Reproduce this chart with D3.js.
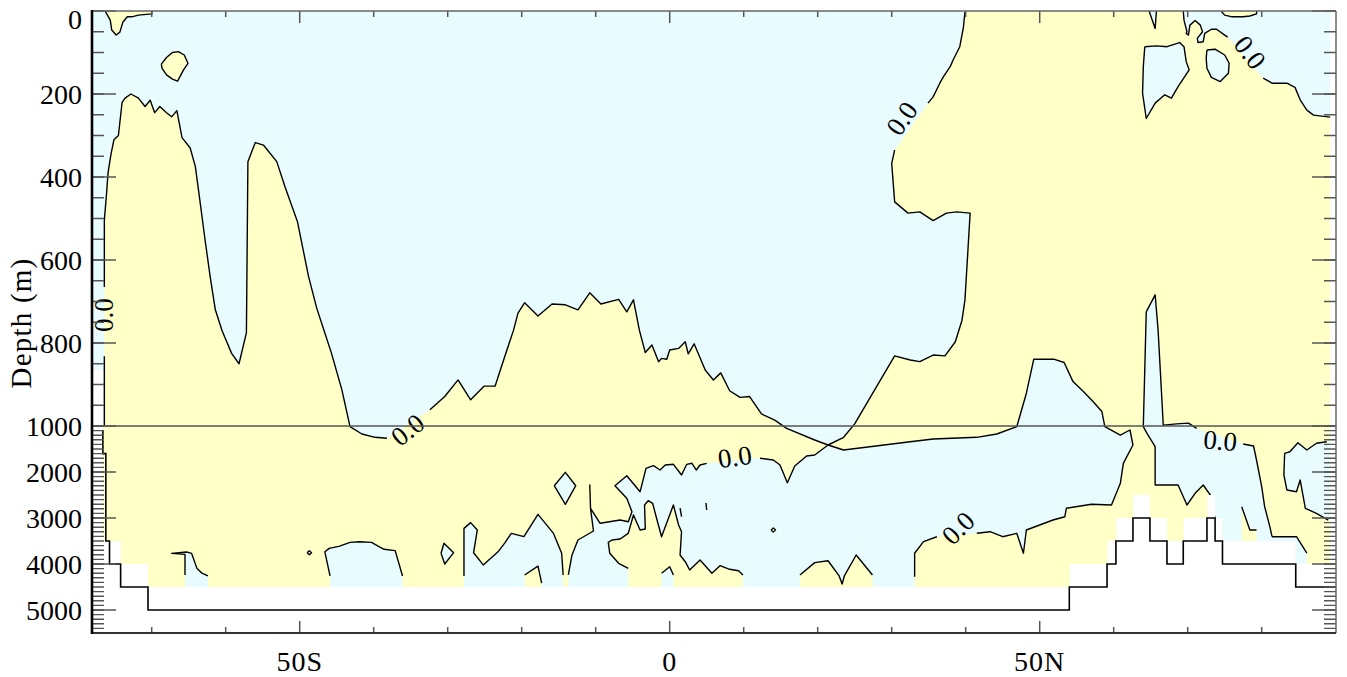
<!DOCTYPE html>
<html><head><meta charset="utf-8">
<script src="https://cdn.jsdelivr.net/npm/d3@7/dist/d3.min.js"></script>
<style>body{margin:0;background:#fff}svg{display:block}</style>
</head><body>
<svg id="c" width="1347" height="677"></svg>
<script>
// ---------------- DATA (latitude in degrees, depth in metres) ----------------
const xTickValues = [-70,-60,-50,-40,-30,-20,-10,0,10,20,30,40,50,60,70,80];
const xMajorTicks = [-50, 0, 50];
const xTickLabels = ["50S", "0", "50N"];
const yLabelValues = [0,200,400,600,800,1000,2000,3000,4000,5000];
const yLabelText = ["0","200","400","600","800","1000","2000","3000","4000","5000"];

// grid columns that carry data: [lat start, lat end, deepest filled depth]
const dataColumns = [[-78,-76.6,865],[-76.6,-74.2,3500],[-74.2,-70.5,4000],[-70.5,54.0,4500],
  [54.0,59.1,4000],[59.1,60.3,3500],[60.3,62.6,3000],[62.6,64.9,2500],[64.9,67.2,3000],
  [67.2,69.4,3500],[69.4,72.6,3000],[72.6,73.7,2500],[73.7,74.7,3000],[74.7,84.6,3500],[84.6,89.2,4000]];

// sea floor (step line)
const bathymetry = [[-76.6,1100],[-76.6,1600],[-76.2,3500],[-75.7,4000],[-74.2,4500],[-70.5,5000],
  [54.0,4500],[59.1,4000],[60.3,3500],[62.6,3000],[64.9,3500],[67.2,4000],[69.4,3500],[72.6,3000],
  [73.7,3500],[74.7,4000],[84.6,4500],[90,4500]];

// zero-contour regions: [lat, depth, (1 = no contour line on the segment into this point)]
const posSouthBand = [[-80,6000],[-80,1000,1],[-76.4,1000,1],[-76.4,832],[-76.4,665,1],[-76.4,504],
  [-76.1,440],[-75.9,390],[-75.5,345],[-75.1,310],[-74.5,300],[-74.0,220],[-73.6,210],[-72.8,200],
  [-71.8,210],[-70.9,230],[-70.2,215],[-69.6,245],[-68.9,230],[-68.0,245],[-67.3,255],[-66.6,240],
  [-65.9,305],[-64.8,330],[-64.1,375],[-63.5,455],[-62.8,550],[-62.1,640],[-61.4,720],[-60.5,770],
  [-59.2,825],[-58.2,850],[-57.2,775],[-57.0,363],[-56.0,317],[-54.9,323],[-53.1,363],[-52.0,423],
  [-50.3,508],[-48.8,640],[-47.7,716],[-46.8,765],[-45.7,825],[-44.3,913],[-43.2,1015],[-41.6,1174],
  [-39.8,1246],[-38.2,1267],[-32.4,961,1],[-30.4,929],[-28.6,889],[-26.9,937],[-25.1,904],[-23.6,904],
  [-22.3,833],[-21.1,769],[-20.5,728],[-19.6,703],[-17.8,735],[-15.9,706],[-14.1,708],[-12.4,720],
  [-10.8,679],[-9.3,706],[-6.9,695],[-5.8,725],[-4.9,696],[-4.1,769],[-3.3,823],[-2.4,805],[-1.5,845],
  [-1.1,837],[-0.4,839],[0.0,817],[1.2,813],[2.1,797],[2.5,826],[3.3,802],[4.8,865],[5.9,889],
  [6.9,872],[8.1,915],[9.5,931],[10.8,929],[12.4,971],[14.2,986],[15.8,1050],[19.6,1304],[21.4,1413],
  [19.6,1630],[18.5,1652],[16.9,1870],[15.9,2233],[14.9,1848],[14.0,1739],[12.2,1702],[5.0,1811,1],
  [4.1,1848],[3.6,1957],[3.0,1811],[2.3,1833],[1.6,2065],[0.5,1833],[-0.6,1848],[-1.3,1957],
  [-2.2,1863],[-3.2,1920],[-4.0,2428],[-5.8,2080],[-7.4,2298],[-5.8,2572],[-5.1,2863],[-5.6,3081],
  [-6.7,3044],[-9.4,3115],[-10.7,2789],[-10.8,2283],[-10.7,2789],[-10.3,3283],[-12.4,3478],
  [-13.2,3804],[-13.7,4239],[-13.7,6000,1]];
const negSouth1 = [[-65.5,6000],[-65.5,4240,1],[-65.5,3790],[-67.3,3770],[-65.3,3740],[-64.6,3770],
  [-63.9,4090],[-63.2,4200],[-62.4,4260],[-62.4,6000,1]];
const negDot1 = [[-49.0,3755],[-48.7,3710],[-48.4,3755],[-48.7,3800],[-49.0,3755]];
const negSouth2 = [[-45.9,6000],[-45.9,4260,1],[-46.6,3735],[-46.0,3660],[-44.6,3610],[-43.2,3530],
  [-41.9,3515],[-40.3,3530],[-39.4,3610],[-38.6,3680],[-37.1,3710],[-36.1,4260],[-36.1,6000,1]];
const negDiamond1 = [[-30.9,3767],[-30.5,3550],[-29.2,3754],[-30.4,4000],[-30.9,3767]];
const negSouth3 = [[-27.8,6000],[-27.8,4260,1],[-27.8,3225],[-26.9,3100],[-26.0,3260],[-26.5,3755],
  [-25.2,4020],[-23.2,3735],[-22.3,3545],[-21.4,3335],[-19.7,3405],[-17.8,2920],[-15.7,3335],
  [-14.6,3765],[-14.4,4240],[-14.4,6000,1]];
const posPeak1 = [[-19.6,6000],[-19.6,4240,1],[-17.8,4045],[-17.3,4415],[-17.3,6000,1]];
const negDiamond2 = [[-15.6,2298],[-14.1,2007],[-12.7,2298],[-14.1,2702],[-15.6,2298]];
const posEquator = [[-5.5,6000],[-5.6,4094,1],[-6.9,3985],[-8.1,3767],[-8.3,3528],[-7.8,3478],
  [-6.7,3457],[-5.6,3333],[-4.9,2935],[-4.0,3261],[-3.3,3239],[-3.4,2717],[-2.9,2624],[-2.3,2680],
  [-2.0,2870],[-1.1,3407],[0.5,2717],[1.2,3152],[1.6,3298],[1.4,3804],[2.1,3950],[2.7,4130],
  [4.1,3913],[5.7,4202],[6.8,4037],[8.1,4115],[9.3,4146],[9.9,4239],[9.9,6000,1]];
const negNotch = [[-1.1,6000],[-1.1,4200,1],[0.0,4060],[0.5,4240],[0.5,6000,1]];
const posStub1 = [[1.4,2783],[1.6,2972]];
const posStub2 = [[4.9,2674],[5.0,2826]];
const posDot2 = [[13.7,3261],[14.0,3215],[14.3,3261],[14.0,3305],[13.7,3261]];
const posBumps = [[17.6,6000],[17.6,4240,1],[19.6,3970],[21.4,3930],[22.9,4260],[23.3,4435],[23.6,4260],
  [25.2,3805],[27.4,4240],[27.4,6000,1]];
const posNorth = [[33.1,6000],[33.1,4276,1],[33.1,3767],[34.3,3515],[36.1,3407],[41.5,3333,1],[43.3,3298],
  [45.0,3407],[46.9,3333],[47.8,3767],[48.2,3261],[51.8,3044],[53.4,2972],[53.6,2789],[57.0,2702],
  [59.7,2717],[60.9,2246],[61.3,1811],[62.6,1413],[62.2,1087],[60.9,1196],[58.8,1015],[58.4,965],
  [57.2,941],[55.9,917],[54.5,893],[53.3,847],[51.9,839],[49.2,839],[48.2,921],[46.9,1015],[44.2,1174],
  [41.5,1246],[35.6,1283],[32.5,1341],[23.5,1522],[21.4,1413],[23.5,1246],[25.0,995],[27.3,925],
  [30.4,831],[32.5,841],[33.8,845],[35.6,829],[37.2,831],[38.6,797],[39.5,745],[39.9,696],[40.6,487],
  [38.8,484],[37.4,487],[35.6,505],[33.8,484],[32.2,487],[30.4,460],[30.0,367],[30.4,335],[34.9,222,1],
  [35.6,207],[36.5,174],[37.0,158],[37.9,134],[38.3,118],[39.2,86],[39.7,38],[39.9,2],[39.9,-30,1],
  [69.4,-30,1],[69.4,0,1],[69.5,22],[69.9,50],[69.8,54],[70.1,58],[70.3,34],[71.0,23],[71.7,34],
  [72.0,50],[71.3,66],[71.4,76],[72.1,74],[72.3,54],[73.2,44],[73.9,44],[75.0,58],[75.4,63],
  [80.2,162,1],[81.4,174],[83.4,174],[84.5,184],[85.2,214],[86.1,239],[87.0,251],[89.0,255],
  [89.5,256],[92,256,1],[92,6000,1]];
const negTopV = [[64.2,-30],[65.6,42],[65.9,-30]];
const negArctic1 = [[64.2,86],[64.0,134],[63.9,198],[64.4,259],[65.6,222],[66.9,202],[67.8,210],
  [68.7,182],[70.2,142],[69.8,122],[69.5,86],[68.9,76],[67.2,86],[65.8,84],[64.2,86]];
const negArctic2 = [[72.6,94],[73.7,92],[75.0,106],[75.6,126],[75.5,150],[74.4,170],[73.2,160],
  [72.6,138],[72.5,114],[72.6,94]];
const negSpike = [[64.4,725],[65.6,684],[66.0,769],[66.7,998],[68.5,995],[70.1,993],[71.2,1050],
  [77.5,1391,1],[78.9,1435],[79.3,1739],[80.0,2320],[80.4,2754],[81.1,3189],[81.4,3407],[81.4,6000,1],
  [73.7,6000,1],[73.7,3028,1],[73.2,2537],[72.1,2283],[71.0,2463],[69.9,2717],[68.7,2283],[65.6,2283],
  [65.6,1450],[64.5,1159],[64.0,1015],[64.4,725]];
const posWedge = [[77.3,6000],[77.3,2755,1],[78.4,3260],[79.3,3260],[79.3,6000,1]];
const negPolar = [[83.0,2065],[83.1,1594],[83.8,1559],[84.9,1363],[86.1,1522],[87.4,1376],[88.8,1341],
  [92,1341,1],[92,3109,1],[89.0,3044,1],[87.4,2898],[85.9,2789],[85.2,2174],[84.7,2428],[83.4,2391],
  [83.0,2065]];
const negPolarFloor = [[81.4,3407],[84.7,3407],[86.1,3765],[86.1,6000,1],[81.4,6000,1]];
const posTopLeft = [[-76.3,-30],[-76.3,0],[-75.6,22],[-75.4,46],[-74.8,58],[-74.3,51],[-73.9,27],
  [-73.3,14],[-72.7,14],[-71.8,10],[-70.0,7],[-69.8,-30]];
const posBlob = [[-68.7,128],[-68.0,112],[-67.2,100],[-66.4,98],[-65.6,106],[-65.1,126],[-65.7,142],
  [-66.5,169],[-67.2,164],[-68.0,154],[-68.6,138],[-68.7,128]];
const posTopRight = [[74.6,-30],[74.6,2],[75.0,10],[76.0,14],[77.5,14],[78.4,12],[79.3,7],[79.5,-30]];

// contour label anchors [lat, depth]
const contourLabels = [[-76.4,733],[-35.4,1087],[8.8,1674],[31.4,259],[78.4,100],[39.0,3224],[74.4,1320]];

// ---------------- DRAWING ----------------
const YEL = "#ffffc8", CYN = "#e8fcff";
const svg = d3.select("#c");
const x = d3.scaleLinear().domain([-78, 90]).range([92.5, 1335.7]);
const y = d3.scaleLinear().domain([0, 1000, 5500]).range([11, 426, 633]);

const defs = svg.append("defs");
defs.append("clipPath").attr("id", "dataClip")
  .selectAll("rect").data(dataColumns).join("rect")
  .attr("x", d => x(d[0])).attr("y", y(0))
  .attr("width", d => x(d[1]) - x(d[0]) + 0.4)
  .attr("height", d => y(d[2]) - y(0));

const g = svg.append("g").attr("clip-path", "url(#dataClip)");
g.append("rect").attr("x", x(-78)).attr("y", y(0))
  .attr("width", x(90) - x(-78)).attr("height", y(5500) - y(0)).attr("fill", CYN);

const shapes = [
  [posSouthBand, YEL], [negSouth1, CYN], [negDot1, CYN], [negSouth2, CYN], [negDiamond1, CYN],
  [negSouth3, CYN], [posPeak1, YEL], [negDiamond2, CYN], [posEquator, YEL], [negNotch, CYN],
  [posStub1, "none"], [posStub2, "none"], [posDot2, YEL], [posBumps, YEL], [posNorth, YEL],
  [negTopV, CYN], [negArctic1, CYN], [negArctic2, CYN], [negSpike, CYN], [posWedge, YEL],
  [negPolar, CYN], [negPolarFloor, CYN], [posTopLeft, YEL], [posBlob, YEL], [posTopRight, YEL]
];
const line = d3.line().x(d => x(d[0])).y(d => y(d[1]));
function runs(pts) {
  const out = []; let cur = [];
  pts.forEach((p, i) => {
    if (i > 0 && p[2]) { if (cur.length > 1) out.push(cur); cur = [p]; }
    else cur.push(p);
  });
  if (cur.length > 1) out.push(cur);
  return out;
}
shapes.forEach(([pts, col]) => {
  if (col !== "none") g.append("path").attr("d", line(pts) + "Z").attr("fill", col).attr("stroke", "none");
  runs(pts).forEach(r => g.append("path").attr("d", line(r)).attr("fill", "none")
    .attr("stroke", "#000").attr("stroke-width", 1.4).attr("stroke-linejoin", "round"));
});

// contour labels
const labelAngles = [-90, -38, -8, -55, 52, -45, 5];
svg.append("g").selectAll("text").data(contourLabels).join("text")
  .attr("transform", (d, i) => `translate(${x(d[0])},${y(d[1])}) rotate(${labelAngles[i]})`)
  .attr("text-anchor", "middle").attr("dominant-baseline", "central")
  .attr("font-family", "Liberation Serif, Times New Roman, serif").attr("font-size", 27)
  .attr("fill", "#000").text("0.0");

// sea floor
svg.append("path").attr("d", d3.line().curve(d3.curveStepAfter).x(d => x(d[0])).y(d => y(d[1]))(bathymetry))
  .attr("fill", "none").attr("stroke", "#000").attr("stroke-width", 1.6);

// 1000 m divider
svg.append("line").attr("x1", x(-78)).attr("x2", x(90)).attr("y1", y(1000)).attr("y2", y(1000))
  .attr("stroke", "#555").attr("stroke-width", 1.5);

// axes frame
const L = 92, R = 1336, T = y(0), B = y(5500);
const ax = svg.append("g");
const tickCol = "#555";
const minorY = d3.range(0, 1000, 50).concat(d3.range(1000, 5501, 100));
const majorY = [0, 200, 400, 600, 800, 1000, 2000, 3000, 4000, 5000];
ax.selectAll(".ym").data(minorY).join("path")
  .attr("d", d => `M${L},${y(d)}H${L + 12}M${R},${y(d)}H${R - 12}`)
  .attr("stroke", tickCol).attr("stroke-width", 1.4);
ax.selectAll(".yM").data(majorY).join("path")
  .attr("d", d => `M${L},${y(d)}H${L + 24}M${R},${y(d)}H${R - 24}`)
  .attr("stroke", tickCol).attr("stroke-width", 1.6);
ax.selectAll(".xm").data(xTickValues).join("path")
  .attr("d", d => { const l = xMajorTicks.includes(d) ? 12 : 6; return `M${x(d)},${T}V${T + l}M${x(d)},${B}V${B - l}`; })
  .attr("stroke", tickCol).attr("stroke-width", 1.5);
ax.append("line").attr("x1", L).attr("x2", R).attr("y1", T).attr("y2", T).attr("stroke", "#666").attr("stroke-width", 1.5);
ax.append("line").attr("x1", R).attr("x2", R).attr("y1", T).attr("y2", B).attr("stroke", "#666").attr("stroke-width", 1.5);
ax.append("line").attr("x1", L).attr("x2", R).attr("y1", B).attr("y2", B).attr("stroke", "#333").attr("stroke-width", 2);
ax.append("line").attr("x1", L).attr("x2", L).attr("y1", T - 1).attr("y2", B + 1).attr("stroke", "#000").attr("stroke-width", 2.6);

// labels
const font = "Liberation Serif, Times New Roman, serif";
ax.selectAll(".yl").data(yLabelValues).join("text")
  .attr("x", 82).attr("y", d => Math.max(y(d), 19.5)).attr("dy", "0.35em")
  .attr("text-anchor", "end").attr("font-family", font).attr("font-size", 28).attr("fill", "#000")
  .text((d, i) => yLabelText[i]);
ax.selectAll(".xl").data(xMajorTicks).join("text")
  .attr("x", d => x(d)).attr("y", 670.5).attr("text-anchor", "middle")
  .attr("font-family", font).attr("font-size", 28).attr("letter-spacing", 1).attr("fill", "#000")
  .text((d, i) => xTickLabels[i]);
ax.append("text").attr("transform", `translate(31,${323}) rotate(-90)`).attr("text-anchor", "middle")
  .attr("font-family", font).attr("font-size", 29).attr("letter-spacing", 1.2).attr("fill", "#000").text("Depth (m)");
</script>
</body></html>
